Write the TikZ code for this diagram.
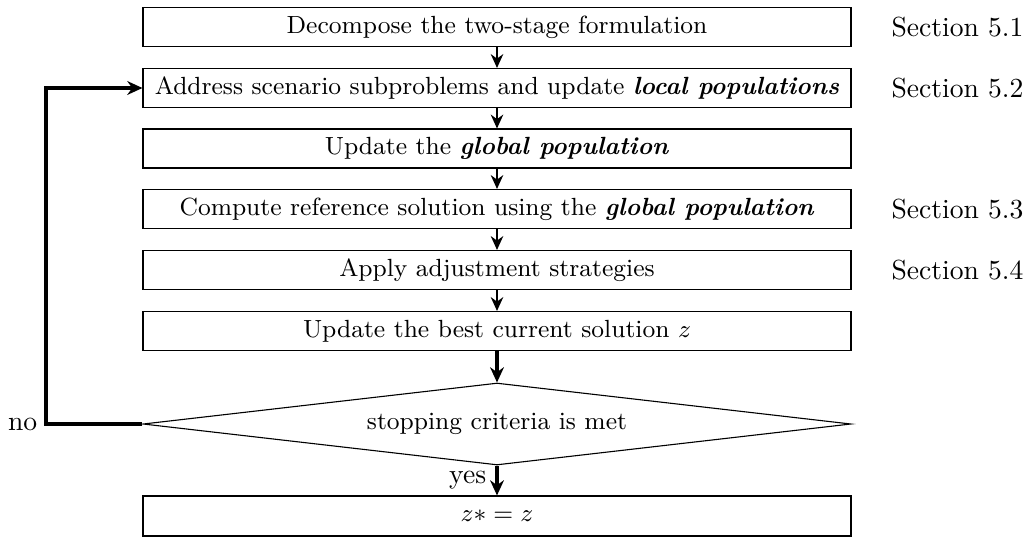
\documentclass[tikz,border=0pt]{standalone}
\usetikzlibrary{shapes.geometric,arrows.meta}
\begin{document}
\begin{tikzpicture}[x=0.3623pt,y=-0.3623pt,
  boxfont/.style={font=\fontsize{9}{11}\selectfont},
  stepbox/.style={draw,line width=0.4pt,minimum width={708*0.3623pt},minimum height={39*0.3623pt},inner sep=0pt,boxfont},
  decbox/.style={draw,line width=0.4pt,diamond,aspect=8.634,minimum width={708*0.3623pt},minimum height={82*0.3623pt},inner sep=0pt,boxfont},
  seclabel/.style={anchor=west,inner sep=0pt,font=\fontsize{10}{12}\selectfont},
  flow/.style={thick,-{Stealth[length=5pt,width=4.5pt]}},
  boldflow/.style={very thick,-{Stealth[length=5.5pt,width=5pt]}}]
\useasboundingbox (0,0) rectangle (1024,536);
\newcommand{\bi}[1]{\textbf{\textit{#1}}}
\node[stepbox] (b1) at (497,27) {Decompose the two-stage formulation};
\node[stepbox] (b2) at (497,88) {Address scenario subproblems and update \bi{local populations}};
\node[stepbox] (b3) at (497,148.5) {Update the \bi{global population}};
\node[stepbox] (b4) at (497,209) {Compute reference solution using the \bi{global population}};
\node[stepbox] (b5) at (497,270) {Apply adjustment strategies};
\node[stepbox] (b6) at (497,331) {Update the best current solution $z$};
\node[decbox] (d) at (497,424) {stopping criteria is met};
\node[stepbox,minimum height={40*0.3623pt}] (b7) at (497,516) {$z* = z$};
\node[seclabel] (s1) at (891,27) {Section 5.1};
\node[seclabel] (s2) at (891,88) {Section 5.2};
\node[seclabel] (s3) at (891,209) {Section 5.3};
\node[seclabel] (s4) at (891,270) {Section 5.4};
\draw[flow] (b1) -- (b2);
\draw[flow] (b2) -- (b3);
\draw[flow] (b3) -- (b4);
\draw[flow] (b4) -- (b5);
\draw[flow] (b5) -- (b6);
\draw[boldflow] (b6) -- (d);
\draw[boldflow] (d) -- node[left,font=\fontsize{10}{12}\selectfont] (yes) {yes} (b7);
\coordinate (fb) at (46,424);
\node[anchor=east,font=\fontsize{10}{12}\selectfont,inner sep=3pt] (no) at (fb) {no};
\draw[boldflow] (d.west) -- (fb) |- (b2.west);
\end{tikzpicture}
\end{document}
